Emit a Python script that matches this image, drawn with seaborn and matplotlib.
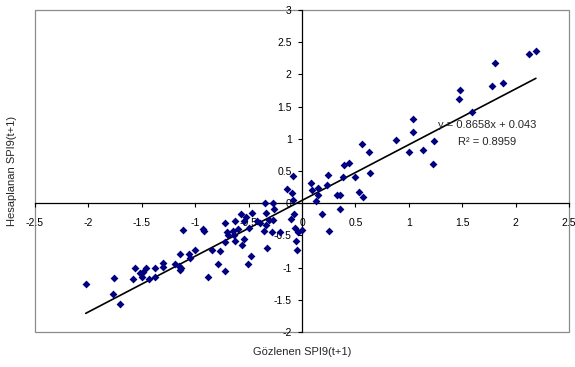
import matplotlib
matplotlib.use("Agg")
import matplotlib.pyplot as plt
import matplotlib.patches as mpatches
import numpy as np
import pandas as pd
import seaborn as sns

# Observed (x) and computed (y) SPI9(t+1)
observed = [-2.025, -1.76, -1.77, -1.70, -1.58, -1.56, -1.52, -1.50, -1.49, -1.46,
            -1.43, -1.375, -1.375, -1.30, -1.30, -1.19, -1.15, -1.14, -1.14, -1.13,
            -1.11, -1.06, -1.05, -1.00, -0.925, -0.92, -0.88, -0.84, -0.79, -0.77,
            -0.725, -0.72, -0.72, -0.70, -0.69, -0.65, -0.64, -0.625, -0.63, -0.60,
            -0.57, -0.56, -0.545, -0.54, -0.52, -0.51, -0.50, -0.48, -0.47, -0.425,
            -0.39, -0.36, -0.35, -0.34, -0.335, -0.33, -0.31, -0.285, -0.27, -0.27,
            -0.26, -0.21, -0.144, -0.10, -0.097, -0.0875, -0.08, -0.075, -0.066, -0.056,
            -0.047, -0.0375, -0.003, 0.08, 0.094, 0.134, 0.153, 0.153, 0.19, 0.23,
            0.24, 0.256, 0.325, 0.356, 0.356, 0.38, 0.39, 0.44, 0.50, 0.53,
            0.56, 0.57, 0.63, 0.64, 0.88, 1.00, 1.04, 1.04, 1.135, 1.225,
            1.24, 1.466, 1.475, 1.59, 1.78, 1.81, 1.88, 2.13, 2.19]
computed = [-1.25, -1.16, -1.41, -1.56, -1.18, -1.00, -1.09, -1.15, -1.07, -1.01,
            -1.18, -1.01, -1.15, -0.93, -0.99, -0.94, -0.98, -0.79, -1.04, -1.01,
            -0.42, -0.79, -0.85, -0.73, -0.40, -0.43, -1.14, -0.73, -0.95, -0.74,
            -1.05, -0.31, -0.61, -0.45, -0.49, -0.43, -0.50, -0.27, -0.58, -0.40,
            -0.17, -0.65, -0.56, -0.27, -0.21, -0.95, -0.39, -0.82, -0.155, -0.28,
            -0.31, -0.43, 0.00, -0.155, -0.34, -0.69, -0.26, -0.44, -0.26, 0.00,
            -0.09, -0.45, 0.22, -0.25, 0.165, 0.42, 0.05, -0.165, -0.39, -0.59,
            -0.72, -0.45, -0.41, 0.31, 0.20, 0.03, 0.23, 0.13, -0.17, 0.29,
            0.44, -0.43, 0.134, 0.124, -0.093, 0.40, 0.59, 0.63, 0.40, 0.18,
            0.92, 0.10, 0.79, 0.475, 0.98, 0.79, 1.30, 1.10, 0.83, 0.61,
            0.96, 1.62, 1.76, 1.42, 1.82, 2.17, 1.86, 2.31, 2.36]

slope = 0.8658
intercept = 0.043
r_squared = 0.8959

x_ticks = [-2.5, -2, -1.5, -1, -0.5, 0, 0.5, 1, 1.5, 2, 2.5]
y_ticks = [-2, -1.5, -1, -0.5, 0, 0.5, 1, 1.5, 2, 2.5, 3]
x_label = "Gözlenen SPI9(t+1)"
y_label = "Hesaplanan SPI9(t+1)"

df = pd.DataFrame({"obs": observed, "calc": computed})

sns.set_style("white")
plt.rcParams["font.family"] = ["Liberation Sans", "DejaVu Sans"]

fig = plt.figure(figsize=(5.75, 3.67), dpi=100)
W, H = 575, 367
ax = fig.add_axes([35 / W, (H - 332) / H, (569 - 35) / W, (332 - 10) / H])

sns.scatterplot(data=df, x="obs", y="calc", marker="D", s=16, color="#000080",
                linewidth=0, ax=ax, zorder=3)

xs = np.array([min(observed), max(observed)])
ax.plot(xs, slope * xs + intercept, color="black", lw=1.2, zorder=2)

ax.set_xlim(-2.5, 2.5)
ax.set_ylim(-2, 3)
ax.set_xticks(x_ticks)
ax.set_yticks(y_ticks)
ax.set_xticklabels([f"{v:g}" for v in x_ticks])
ax.set_yticklabels([f"{v:g}" for v in y_ticks])

for side in ["top", "right"]:
    ax.spines[side].set_visible(False)
ax.spines["left"].set_position(("data", 0))
ax.spines["bottom"].set_position(("data", 0))
for side in ["left", "bottom"]:
    ax.spines[side].set_color("black")
    ax.spines[side].set_linewidth(0.9)
    ax.spines[side].set_zorder(1)

ax.tick_params(axis="both", direction="out", length=3, width=0.8, color="black",
               labelsize=7.5, labelcolor="black")
ax.tick_params(axis="x", bottom=True, pad=8)
ax.tick_params(axis="y", left=True, pad=4.5)

border = mpatches.Rectangle((0, 0), 1, 1, transform=ax.transAxes, fill=False,
                            edgecolor="#8c8c8c", linewidth=0.9, clip_on=False, zorder=0)
ax.add_patch(border)

ax.set_xlabel(x_label, fontsize=8)
ax.set_ylabel(y_label, fontsize=8)
ax.xaxis.set_label_coords(0.5, -0.047)
ax.yaxis.set_label_coords(-0.034, 0.5)

ax.text(1.732, 1.214, f"y = {slope}x + {intercept}", fontsize=8, ha="center", va="center")
ax.text(1.732, 0.95, f"R² = {r_squared}", fontsize=8, ha="center", va="center")

fig.savefig("out.png", dpi=100, facecolor="white")
